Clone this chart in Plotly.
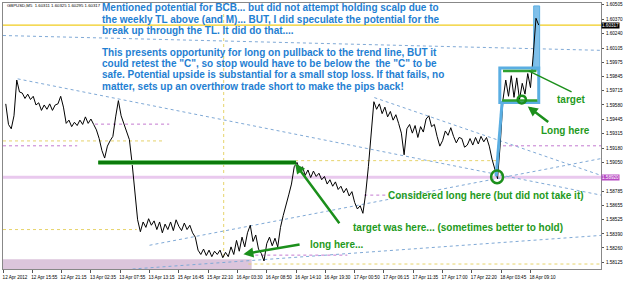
import plotly.graph_objects as go

# ---------------- data ----------------
BAR_STEP = 6  # sampled every 6 five-minute bars
closes = [
    1.5959, 1.5940, 1.5936, 1.5948, 1.5981, 1.5970, 1.5969, 1.5964, 1.5968, 1.5963,
    1.5966, 1.5958, 1.5960, 1.5953, 1.5958, 1.5954, 1.5959, 1.5953, 1.5958, 1.5959,
    1.5966, 1.5956, 1.5941, 1.5944, 1.5938, 1.5942, 1.5939, 1.5944, 1.5940, 1.5947,
    1.5941, 1.5945, 1.5940, 1.5935, 1.5927, 1.5916, 1.5909, 1.5920, 1.5925, 1.5929,
    1.5947, 1.5962, 1.5948, 1.5941, 1.5933, 1.5926, 1.5904, 1.5874, 1.5852, 1.5841,
    1.5850, 1.5845, 1.5853, 1.5847, 1.5851, 1.5843, 1.5850, 1.5840, 1.5848, 1.5843,
    1.5850, 1.5842, 1.5852, 1.5846, 1.5842, 1.5849, 1.5843, 1.5847, 1.5840, 1.5836,
    1.5824, 1.5820, 1.5825, 1.5819, 1.5824, 1.5818, 1.5823, 1.5820, 1.5824, 1.5817,
    1.5822, 1.5818, 1.5827, 1.5820, 1.5833, 1.5823, 1.5836, 1.5827, 1.5840, 1.5847,
    1.5832, 1.5838, 1.5825, 1.5821, 1.5814, 1.5830, 1.5836, 1.5828, 1.5835, 1.5827,
    1.5845, 1.5856, 1.5867, 1.5875, 1.5885, 1.5901, 1.5905, 1.5898, 1.5901, 1.5893,
    1.5898, 1.5891, 1.5897, 1.5892, 1.5895, 1.5889, 1.5892, 1.5885, 1.5889, 1.5883,
    1.5887, 1.5880, 1.5883, 1.5877, 1.5881, 1.5874, 1.5878, 1.5868, 1.5862, 1.5865,
    1.5858, 1.5876, 1.5901, 1.5929, 1.5961, 1.5954, 1.5959, 1.5950, 1.5956, 1.5947,
    1.5952, 1.5944, 1.5949, 1.5941, 1.5932, 1.5912, 1.5936, 1.5940, 1.5932, 1.5939,
    1.5928, 1.5938, 1.5933, 1.5945, 1.5948, 1.5938, 1.5940, 1.5929, 1.5920, 1.5925,
    1.5934, 1.5930, 1.5937, 1.5929, 1.5923, 1.5928, 1.5927, 1.5919, 1.5921, 1.5927,
    1.5921, 1.5928, 1.5922, 1.5929, 1.5924, 1.5928, 1.5920, 1.5908, 1.5898, 1.5890,
    1.5922, 1.5963, 1.5981, 1.5966, 1.5985, 1.5965, 1.5983, 1.5963, 1.5978, 1.5968,
    1.5987, 1.5974, 1.6004, 1.6038, 1.60317,
]
bars = [BAR_STEP * (i + 1) for i in range(len(closes))]

x_tick_bars = [64 * k for k in range(19)]
x_tick_labels = ["12 Apr 2012", "12 Apr 15:55", "12 Apr 21:15", "13 Apr 02:35", "13 Apr 07:55",
                 "13 Apr 13:15", "15 Apr 16:45", "15 Apr 22:10", "16 Apr 03:30", "16 Apr 08:50",
                 "16 Apr 14:10", "16 Apr 19:30", "17 Apr 00:50", "17 Apr 06:15", "17 Apr 11:35",
                 "17 Apr 17:00", "17 Apr 22:20", "18 Apr 03:45", "18 Apr 09:10"]
# the 1.58920 level is shown by the pink price tag on the axis
y_tick_labels = ["1.60505", "1.60370", "1.60240", "1.60105", "1.59975", "1.59845", "1.59715",
                 "1.59580", "1.59445", "1.59315", "1.59180", "1.59050", "1.58785",
                 "1.58655", "1.58525", "1.58390", "1.58260", "1.58125"]
y_tick_vals = [float(v) for v in y_tick_labels]

X_RANGE = [0, 1306]
Y_RANGE = [1.58066, 1.60521]

header = "GBPUSD,M5  1.60311 1.60325 1.60295 1.60317"
last_price = 1.60317
level_price = 1.58912

# objects drawn on the chart (bar index, price)
blue_trendlines = [
    (0, 1.60221, 1306, 1.60084),
    (32, 1.59821, 1306, 1.58748),
    (811, 1.59648, 1306, 1.58930),
    (320, 1.58285, 1306, 1.59085),
    (283, 1.58066, 1306, 1.58376),
]
pink_levels = [(201, 363, 1.59403), (0, 162, 1.59203), (1092, 1306, 1.59203),
               (789, 839, 1.58748), (551, 752, 1.58194)]
yellow_levels = [(0, 348, 1.59248), (0, 292, 1.58430), (638, 1083, 1.59066),
                 (536, 1306, 1.58112)]
yellow_vline_bar = 482
green_level = (208, 640, 1.59048)
pink_zone = (0, 543, 1.58157)
box = (1085, 1170, 1.59603, 1.59921)
spike_bar = (1159, 1172, 1.59903, 1.60494)
box_link = (1077, 1.58921, 1090, 1.59603)
box_green_lines = [(1092, 1165, 1.59894), (1090, 1167, 1.59621)]
circle_big = (1066, 1092, 1.58857, 1.58975)
circle_small = (1124, 1142, 1.59594, 1.59666)

paragraph = [
    "Mentioned potential for BCB... but did not attempt holding scalp due to",
    "the weekly TL above (and M)... BUT, I did speculate the potential for the",
    "break up through the TL. It did do that....",
    "This presents opportunity for long on pullback to the trend line, BUT it",
    "could retest the \"C\", so stop would have to be below the  the \"C\" to be",
    "safe. Potential upside is substantial for a small stop loss. If that fails, no",
    "matter, sets up an overthrow trade short to make the pips back!",
]
paragraph_rows = [7.0, 18.5, 30, 52, 63.8, 75, 86.3]  # pixel rows from top

green_notes = [
    ("target", 1205, 1.59630),
    ("Long here", 1170, 1.59348),
    ("Considered long here (but did not take it)", 837, 1.58748),
    ("target was here... (sometimes better to hold)", 759, 1.58448),
    ("long here...", 666, 1.58294),
]
green_arrows = [  # head x, head y, tail x, tail y, arrowhead
    (525, 1.58203, 651, 1.58294, 2),
    (638, 1.59039, 737, 1.58475, 2),
    (1148, 1.59894, 1245, 1.59694, 0),
    (1146, 1.59566, 1194, 1.59412, 2),
]

# ---------------- styles ----------------
BLUE_TXT = "#1f80d2"
GREEN = "#1b8f1b"
GREEN_TXT = "#1f9a22"
TL_BLUE = "#7fa9d6"
PINK = "#c47ad0"
YELLOW = "#e6d36a"
BOX_BLUE = "#5aaee2"

fig = go.Figure()

shapes = []
shapes.append(dict(type="rect", xref="x", yref="y", x0=pink_zone[0], x1=pink_zone[1],
                   y0=Y_RANGE[0], y1=pink_zone[2], fillcolor="#dcc5dc", line_width=0, layer="below"))
shapes.append(dict(type="line", xref="x", yref="y", x0=X_RANGE[0], x1=X_RANGE[1],
                   y0=level_price, y1=level_price, line=dict(color="#e9c9ee", width=3), layer="below"))
shapes.append(dict(type="line", xref="x", yref="y", x0=X_RANGE[0], x1=X_RANGE[1],
                   y0=last_price, y1=last_price, line=dict(color="#f0cc1e", width=1.2), layer="below"))
shapes.append(dict(type="line", xref="x", yref="paper", x0=yellow_vline_bar, x1=yellow_vline_bar,
                   y0=0, y1=1, line=dict(color=YELLOW, width=1, dash="dot"), layer="below"))
for x0, y0, x1, y1 in blue_trendlines:
    shapes.append(dict(type="line", xref="x", yref="y", x0=x0, y0=y0, x1=x1, y1=y1,
                       line=dict(color=TL_BLUE, width=1, dash="dot"), layer="below"))
for x0, x1, p in pink_levels:
    shapes.append(dict(type="line", xref="x", yref="y", x0=x0, x1=x1, y0=p, y1=p,
                       line=dict(color=PINK, width=1, dash="dot"), layer="below"))
for x0, x1, p in yellow_levels:
    shapes.append(dict(type="line", xref="x", yref="y", x0=x0, x1=x1, y0=p, y1=p,
                       line=dict(color=YELLOW, width=1, dash="dot"), layer="below"))
shapes.append(dict(type="rect", xref="x", yref="y", x0=spike_bar[0], x1=spike_bar[1],
                   y0=spike_bar[2], y1=spike_bar[3], fillcolor="#80c0ea", line=dict(color=BOX_BLUE, width=1),
                   layer="below"))
shapes.append(dict(type="line", xref="x", yref="y", x0=green_level[0], x1=green_level[1],
                   y0=green_level[2], y1=green_level[2], line=dict(color="#7cc97c", width=5)))
shapes.append(dict(type="line", xref="x", yref="y", x0=green_level[0], x1=green_level[1],
                   y0=green_level[2], y1=green_level[2], line=dict(color="#0b7a0b", width=3)))
shapes.append(dict(type="rect", xref="x", yref="y", x0=box[0], x1=box[1], y0=box[2], y1=box[3],
                   line=dict(color=BOX_BLUE, width=3)))
for x0, x1, p in box_green_lines:
    shapes.append(dict(type="line", xref="x", yref="y", x0=x0, x1=x1, y0=p, y1=p,
                       line=dict(color="#2ea02e", width=2.5)))
shapes.append(dict(type="line", xref="x", yref="y", x0=box_link[0], y0=box_link[1],
                   x1=box_link[2], y1=box_link[3], line=dict(color=BOX_BLUE, width=3)))
for c in (circle_big, circle_small):
    shapes.append(dict(type="circle", xref="x", yref="y", x0=c[0], x1=c[1], y0=c[2], y1=c[3],
                       line=dict(color=GREEN, width=2.5)))

fig.add_trace(go.Scatter(x=bars, y=closes, mode="lines",
                         line=dict(color="black", width=1), hoverinfo="skip", showlegend=False))

annotations = []
for txt, row in zip(paragraph, paragraph_rows):
    annotations.append(dict(xref="paper", yref="paper", x=(100 - 2) / 604, y=1 - (row - 2) / 270,
                            xanchor="left", yanchor="middle", showarrow=False, text=txt,
                            font=dict(family="Liberation Sans, Arial", size=10, color=BLUE_TXT,
                                      weight="bold")))
for txt, bx, py in green_notes:
    annotations.append(dict(xref="x", yref="y", x=bx, y=py, xanchor="left", yanchor="middle",
                            showarrow=False, text=txt,
                            font=dict(family="Liberation Sans, Arial", size=10, color=GREEN_TXT,
                                      weight="bold")))
for hx, hy, tx, ty, head in green_arrows:
    annotations.append(dict(xref="x", yref="y", x=hx, y=hy, axref="x", ayref="y", ax=tx, ay=ty,
                            text="", showarrow=True, arrowhead=head, arrowsize=0.8,
                            arrowwidth=2.5 if head else 1.5, arrowcolor=GREEN))
annotations.append(dict(xref="paper", yref="paper", x=0.003, y=1 - 3 / 270, xanchor="left",
                        yanchor="middle", showarrow=False, text=header,
                        font=dict(family="Liberation Sans, Arial", size=4.3, color="black")))
annotations.append(dict(xref="paper", yref="y", x=1, y=last_price, xanchor="left", yanchor="middle",
                        showarrow=False, text="1.60317", bgcolor="black", borderpad=0,
                        font=dict(family="Liberation Sans, Arial", size=4.6, color="white")))
annotations.append(dict(xref="paper", yref="y", x=1, y=level_price, xanchor="left", yanchor="middle",
                        showarrow=False, text="1.58920", bgcolor="#b84cc4", borderpad=0,
                        font=dict(family="Liberation Sans, Arial", size=4.6, color="white")))

fig.update_layout(
    width=625, height=282,
    margin=dict(l=2, r=19, t=2, b=10),
    paper_bgcolor="white", plot_bgcolor="white",
    shapes=shapes, annotations=annotations, showlegend=False,
    xaxis=dict(range=X_RANGE, tickvals=x_tick_bars, ticktext=x_tick_labels,
               ticks="outside", ticklen=3, tickcolor="#555", showgrid=False, zeroline=False,
               showline=True, linecolor="#888", linewidth=1, mirror=True,
               tickfont=dict(family="Liberation Sans, Arial", size=4.6, color="black"),
               ticklabelshift=12, ticklabelstandoff=0),
    yaxis=dict(range=Y_RANGE, side="right", tickvals=y_tick_vals, ticktext=y_tick_labels,
               ticks="outside", ticklen=2, tickcolor="#555", showgrid=False, zeroline=False,
               showline=True, linecolor="#888", linewidth=1, mirror=True,
               tickfont=dict(family="Liberation Sans, Arial", size=4.6, color="black"),
               ticklabelstandoff=1),
)

fig.write_html("out.html")
